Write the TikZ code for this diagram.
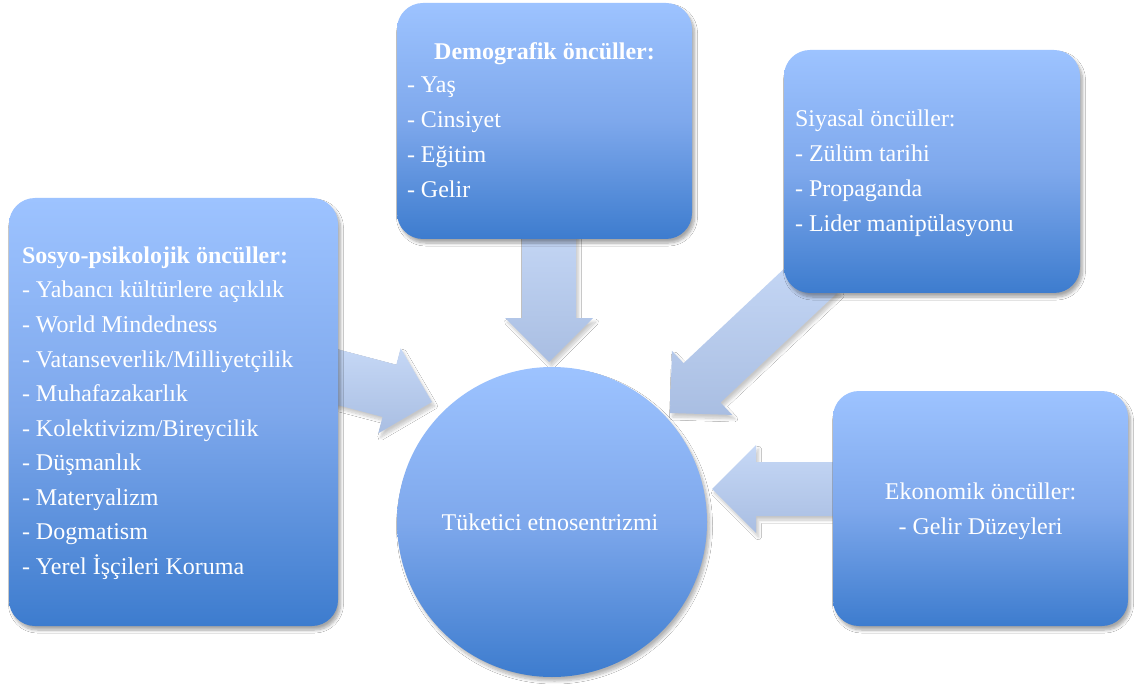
\documentclass[tikz,border=0pt]{standalone}
\usepackage{fontspec}
\setmainfont{Liberation Serif}
\usetikzlibrary{calc,shadows.blur}

\definecolor{boxtop}{HTML}{9DC3FF}
\definecolor{boxmid}{HTML}{7EA8EC}
\definecolor{boxbot}{HTML}{3D7CCE}
\definecolor{arrtop}{HTML}{C6D8F6}
\definecolor{arrbot}{HTML}{A9BEE2}

\tikzset{
  softshadow/.style={blur shadow={shadow xshift=2.5pt, shadow yshift=-4pt,
      shadow blur radius=3pt, shadow blur steps=8, shadow opacity=#1}},
  card/.style={rectangle, rounded corners=26pt, inner sep=0pt, outer sep=0pt,
    top color=boxtop, bottom color=boxbot, middle color=boxmid,
    softshadow=35},
  orb/.style={circle, inner sep=0pt, outer sep=0pt, minimum size=310pt,
    top color=boxtop, bottom color=boxbot, middle color=boxmid,
    softshadow=30},
  blockfill/.style={top color=arrtop, bottom color=arrbot, softshadow=22},
  txt/.style={text=white, inner sep=0pt, outer sep=0pt,
    font=\fontsize{24}{34.5}\selectfont},
  txtb/.style={txt, font=\fontsize{24}{34.5}\selectfont\bfseries},
}

% block arrow from #1 (tail) to #2 (tip), head base at #3
\newcommand{\blockarrow}[3]{%
  \path[blockfill]
    ($(#1)!27pt!90:(#2)$) -- ($(#3)!27pt!90:(#2)$) --
    ($(#3)!44pt!90:(#2)$) -- (#2) -- ($(#3)!44pt!-90:(#2)$) --
    ($(#3)!27pt!-90:(#2)$) -- ($(#1)!27pt!-90:(#2)$) -- cycle;}

\begin{document}
\begin{tikzpicture}[x=1pt,y=-1pt]
\useasboundingbox[fill=white] (0,0) rectangle (1134,684);

% arrow ends
\coordinate (dTail) at (549,220);
\coordinate (dTip)  at (549,362);
\coordinate (sTail) at (318,372);
\coordinate (sTip)  at (432,402);
\coordinate (pTail) at (820,272);
\coordinate (pTip)  at (670,413);
\coordinate (eTail) at (850,489);
\coordinate (eTip)  at (712,489);
\foreach \a in {d,s,p,e}
  \coordinate (\a Head) at ($(\a Tip)!44pt!(\a Tail)$);

% block arrows pointing to the centre
\blockarrow{dTail}{dTip}{dHead}
\blockarrow{sTail}{sTip}{sHead}
\blockarrow{pTail}{pTip}{pHead}
\blockarrow{eTail}{eTip}{eHead}

% boxes
\node[card, minimum width=329pt, minimum height=428pt] (sosyo) at (173.5,412) {};
\node[card, minimum width=295pt, minimum height=236pt] (demo)  at (544.5,121) {};
\node[card, minimum width=296pt, minimum height=243pt] (siyasal) at (932,171.5) {};
\node[card, minimum width=295pt, minimum height=235pt] (eko) at (980.5,508.5) {};
\node[orb] (core) at (552,522) {};

% socio-psychological antecedents
\node[txtb, anchor=base west] (s0) at (22,264) {Sosyo-psikolojik öncüller:};
\foreach \t [count=\i from 0] in {- Yabancı kültürlere açıklık, - World Mindedness,
  - Vatanseverlik/Milliyetçilik, - Muhafazakarlık, - Kolektivizm/Bireycilik,
  - Düşmanlık, - Materyalizm, - Dogmatism, - Yerel İşçileri Koruma}
  \node[txt, anchor=base west] (s\i x) at (22,298+34.5*\i) {\t};

% demographic antecedents
\node[txtb, anchor=base] (d0) at (544.5,60) {Demografik öncüller:};
\foreach \t [count=\i from 0] in {- Yaş, - Cinsiyet, - Eğitim, - Gelir}
  \node[txt, anchor=base west] (d\i x) at (407,93+34.7*\i) {\t};

% political antecedents
\foreach \t [count=\i from 0] in {Siyasal öncüller:, - Zülüm tarihi, - Propaganda, - Lider manipülasyonu}
  \node[txt, anchor=base west] (p\i x) at (795,127+34.7*\i) {\t};

% economic antecedents
\node[txt, anchor=base] (e0) at (980.5,499) {Ekonomik öncüller:};
\node[txt, anchor=base] (e1) at (980.5,534) {- Gelir Düzeyleri};

% centre
\node[txt, anchor=base] (corelabel) at (550,530) {Tüketici etnosentrizmi};
\end{tikzpicture}
\end{document}
